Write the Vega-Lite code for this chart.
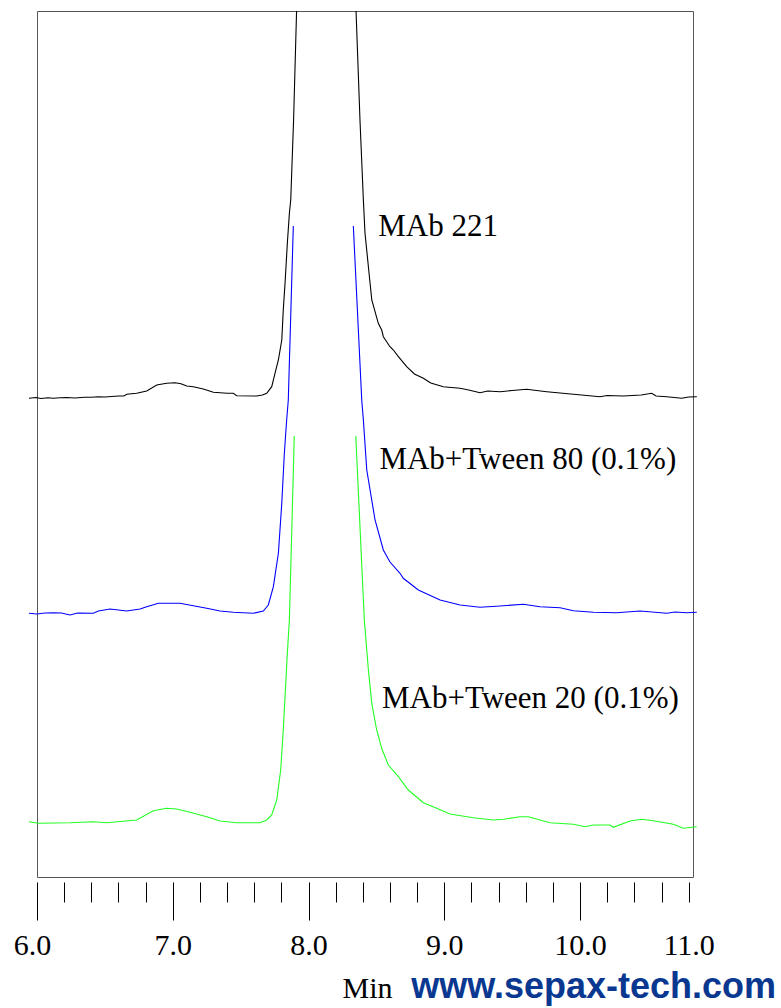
{
  "$schema": "https://vega.github.io/schema/vega-lite/v6.json",
  "width": 656,
  "height": 866,
  "autosize": {"type": "none"},
  "padding": {"left": 37, "top": 11, "right": 88, "bottom": 131},
  "background": "white",
  "config": {"view": {"stroke": "#555555", "strokeWidth": 1}},
  "title": {"text": "www.sepax-tech.com", "orient": "bottom", "anchor": "end", "frame": "group", "font": "Liberation Sans", "fontSize": 36, "fontWeight": "bold", "color": "#0a3890", "baseline": "alphabetic", "dx": 83, "dy": -5, "offset": 0},
  "datasets": {
    "traces": [
      {"trace": "MAb 221", "part": "K-L", "t": 5.941, "v": 478.7},
      {"trace": "MAb 221", "part": "K-L", "t": 5.99, "v": 479.5},
      {"trace": "MAb 221", "part": "K-L", "t": 6.03, "v": 478.5},
      {"trace": "MAb 221", "part": "K-L", "t": 6.08, "v": 479.3},
      {"trace": "MAb 221", "part": "K-L", "t": 6.12, "v": 478.7},
      {"trace": "MAb 221", "part": "K-L", "t": 6.17, "v": 479.3},
      {"trace": "MAb 221", "part": "K-L", "t": 6.22, "v": 479.5},
      {"trace": "MAb 221", "part": "K-L", "t": 6.28, "v": 479.0},
      {"trace": "MAb 221", "part": "K-L", "t": 6.35, "v": 479.7},
      {"trace": "MAb 221", "part": "K-L", "t": 6.40, "v": 479.8},
      {"trace": "MAb 221", "part": "K-L", "t": 6.45, "v": 480.3},
      {"trace": "MAb 221", "part": "K-L", "t": 6.50, "v": 480.0},
      {"trace": "MAb 221", "part": "K-L", "t": 6.55, "v": 480.5},
      {"trace": "MAb 221", "part": "K-L", "t": 6.60, "v": 481.0},
      {"trace": "MAb 221", "part": "K-L", "t": 6.64, "v": 481.0},
      {"trace": "MAb 221", "part": "K-L", "t": 6.661, "v": 482.7},
      {"trace": "MAb 221", "part": "K-L", "t": 6.734, "v": 483.7},
      {"trace": "MAb 221", "part": "K-L", "t": 6.808, "v": 486.0},
      {"trace": "MAb 221", "part": "K-L", "t": 6.882, "v": 492.0},
      {"trace": "MAb 221", "part": "K-L", "t": 6.955, "v": 493.7},
      {"trace": "MAb 221", "part": "K-L", "t": 7.017, "v": 494.3},
      {"trace": "MAb 221", "part": "K-L", "t": 7.06, "v": 493.3},
      {"trace": "MAb 221", "part": "K-L", "t": 7.103, "v": 491.0},
      {"trace": "MAb 221", "part": "K-L", "t": 7.151, "v": 490.3},
      {"trace": "MAb 221", "part": "K-L", "t": 7.225, "v": 488.0},
      {"trace": "MAb 221", "part": "K-L", "t": 7.299, "v": 484.7},
      {"trace": "MAb 221", "part": "K-L", "t": 7.40, "v": 483.7},
      {"trace": "MAb 221", "part": "K-L", "t": 7.446, "v": 483.7},
      {"trace": "MAb 221", "part": "K-L", "t": 7.471, "v": 481.3},
      {"trace": "MAb 221", "part": "K-L", "t": 7.618, "v": 481.0},
      {"trace": "MAb 221", "part": "K-L", "t": 7.66, "v": 482.0},
      {"trace": "MAb 221", "part": "K-L", "t": 7.692, "v": 483.7},
      {"trace": "MAb 221", "part": "K-L", "t": 7.729, "v": 490.3},
      {"trace": "MAb 221", "part": "K-L", "t": 7.753, "v": 503.7},
      {"trace": "MAb 221", "part": "K-L", "t": 7.778, "v": 517.0},
      {"trace": "MAb 221", "part": "K-L", "t": 7.803, "v": 537.0},
      {"trace": "MAb 221", "part": "K-L", "t": 7.814, "v": 567.0},
      {"trace": "MAb 221", "part": "K-L", "t": 7.827, "v": 593.7},
      {"trace": "MAb 221", "part": "K-L", "t": 7.844, "v": 633.7},
      {"trace": "MAb 221", "part": "K-L", "t": 7.859, "v": 663.7},
      {"trace": "MAb 221", "part": "K-L", "t": 7.869, "v": 677.0},
      {"trace": "MAb 221", "part": "K-L", "t": 7.890, "v": 757.0},
      {"trace": "MAb 221", "part": "K-L", "t": 7.912, "v": 866.0},
      {"trace": "MAb 221", "part": "K-R", "t": 8.350, "v": 866.0},
      {"trace": "MAb 221", "part": "K-R", "t": 8.379, "v": 757.0},
      {"trace": "MAb 221", "part": "K-R", "t": 8.404, "v": 677.0},
      {"trace": "MAb 221", "part": "K-R", "t": 8.416, "v": 643.7},
      {"trace": "MAb 221", "part": "K-R", "t": 8.441, "v": 610.3},
      {"trace": "MAb 221", "part": "K-R", "t": 8.466, "v": 577.0},
      {"trace": "MAb 221", "part": "K-R", "t": 8.514, "v": 553.7},
      {"trace": "MAb 221", "part": "K-R", "t": 8.539, "v": 547.0},
      {"trace": "MAb 221", "part": "K-R", "t": 8.551, "v": 540.3},
      {"trace": "MAb 221", "part": "K-R", "t": 8.600, "v": 530.3},
      {"trace": "MAb 221", "part": "K-R", "t": 8.625, "v": 527.0},
      {"trace": "MAb 221", "part": "K-R", "t": 8.662, "v": 520.3},
      {"trace": "MAb 221", "part": "K-R", "t": 8.723, "v": 510.3},
      {"trace": "MAb 221", "part": "K-R", "t": 8.78, "v": 503.0},
      {"trace": "MAb 221", "part": "K-R", "t": 8.846, "v": 498.7},
      {"trace": "MAb 221", "part": "K-R", "t": 8.90, "v": 494.0},
      {"trace": "MAb 221", "part": "K-R", "t": 8.993, "v": 490.3},
      {"trace": "MAb 221", "part": "K-R", "t": 9.116, "v": 488.7},
      {"trace": "MAb 221", "part": "K-R", "t": 9.18, "v": 487.0},
      {"trace": "MAb 221", "part": "K-R", "t": 9.263, "v": 484.3},
      {"trace": "MAb 221", "part": "K-R", "t": 9.32, "v": 486.0},
      {"trace": "MAb 221", "part": "K-R", "t": 9.411, "v": 485.3},
      {"trace": "MAb 221", "part": "K-R", "t": 9.50, "v": 486.5},
      {"trace": "MAb 221", "part": "K-R", "t": 9.607, "v": 487.7},
      {"trace": "MAb 221", "part": "K-R", "t": 9.65, "v": 487.0},
      {"trace": "MAb 221", "part": "K-R", "t": 9.755, "v": 485.3},
      {"trace": "MAb 221", "part": "K-R", "t": 9.951, "v": 482.7},
      {"trace": "MAb 221", "part": "K-R", "t": 10.05, "v": 481.5},
      {"trace": "MAb 221", "part": "K-R", "t": 10.147, "v": 480.3},
      {"trace": "MAb 221", "part": "K-R", "t": 10.20, "v": 481.5},
      {"trace": "MAb 221", "part": "K-R", "t": 10.319, "v": 481.0},
      {"trace": "MAb 221", "part": "K-R", "t": 10.45, "v": 482.0},
      {"trace": "MAb 221", "part": "K-R", "t": 10.528, "v": 483.7},
      {"trace": "MAb 221", "part": "K-R", "t": 10.56, "v": 481.0},
      {"trace": "MAb 221", "part": "K-R", "t": 10.639, "v": 480.3},
      {"trace": "MAb 221", "part": "K-R", "t": 10.749, "v": 478.7},
      {"trace": "MAb 221", "part": "K-R", "t": 10.80, "v": 480.0},
      {"trace": "MAb 221", "part": "K-R", "t": 10.860, "v": 480.3},

      {"trace": "Tween 80", "part": "B-L", "t": 5.941, "v": 263.7},
      {"trace": "Tween 80", "part": "B-L", "t": 5.998, "v": 263.0},
      {"trace": "Tween 80", "part": "B-L", "t": 6.06, "v": 264.0},
      {"trace": "Tween 80", "part": "B-L", "t": 6.120, "v": 264.3},
      {"trace": "Tween 80", "part": "B-L", "t": 6.18, "v": 264.0},
      {"trace": "Tween 80", "part": "B-L", "t": 6.243, "v": 262.0},
      {"trace": "Tween 80", "part": "B-L", "t": 6.30, "v": 264.0},
      {"trace": "Tween 80", "part": "B-L", "t": 6.415, "v": 263.7},
      {"trace": "Tween 80", "part": "B-L", "t": 6.452, "v": 266.0},
      {"trace": "Tween 80", "part": "B-L", "t": 6.538, "v": 268.0},
      {"trace": "Tween 80", "part": "B-L", "t": 6.60, "v": 267.0},
      {"trace": "Tween 80", "part": "B-L", "t": 6.661, "v": 266.0},
      {"trace": "Tween 80", "part": "B-L", "t": 6.759, "v": 268.0},
      {"trace": "Tween 80", "part": "B-L", "t": 6.808, "v": 270.3},
      {"trace": "Tween 80", "part": "B-L", "t": 6.894, "v": 273.7},
      {"trace": "Tween 80", "part": "B-L", "t": 7.053, "v": 273.7},
      {"trace": "Tween 80", "part": "B-L", "t": 7.151, "v": 271.3},
      {"trace": "Tween 80", "part": "B-L", "t": 7.250, "v": 268.7},
      {"trace": "Tween 80", "part": "B-L", "t": 7.348, "v": 266.0},
      {"trace": "Tween 80", "part": "B-L", "t": 7.446, "v": 264.7},
      {"trace": "Tween 80", "part": "B-L", "t": 7.593, "v": 263.7},
      {"trace": "Tween 80", "part": "B-L", "t": 7.667, "v": 266.0},
      {"trace": "Tween 80", "part": "B-L", "t": 7.704, "v": 272.0},
      {"trace": "Tween 80", "part": "B-L", "t": 7.741, "v": 290.3},
      {"trace": "Tween 80", "part": "B-L", "t": 7.778, "v": 323.7},
      {"trace": "Tween 80", "part": "B-L", "t": 7.803, "v": 373.7},
      {"trace": "Tween 80", "part": "B-L", "t": 7.822, "v": 423.7},
      {"trace": "Tween 80", "part": "B-L", "t": 7.839, "v": 457.0},
      {"trace": "Tween 80", "part": "B-L", "t": 7.851, "v": 477.0},
      {"trace": "Tween 80", "part": "B-L", "t": 7.888, "v": 651.0},
      {"trace": "Tween 80", "part": "B-R", "t": 8.330, "v": 651.0},
      {"trace": "Tween 80", "part": "B-R", "t": 8.392, "v": 477.0},
      {"trace": "Tween 80", "part": "B-R", "t": 8.404, "v": 457.0},
      {"trace": "Tween 80", "part": "B-R", "t": 8.429, "v": 407.0},
      {"trace": "Tween 80", "part": "B-R", "t": 8.490, "v": 357.0},
      {"trace": "Tween 80", "part": "B-R", "t": 8.551, "v": 327.0},
      {"trace": "Tween 80", "part": "B-R", "t": 8.600, "v": 315.0},
      {"trace": "Tween 80", "part": "B-R", "t": 8.674, "v": 303.7},
      {"trace": "Tween 80", "part": "B-R", "t": 8.698, "v": 298.7},
      {"trace": "Tween 80", "part": "B-R", "t": 8.809, "v": 287.0},
      {"trace": "Tween 80", "part": "B-R", "t": 8.969, "v": 277.0},
      {"trace": "Tween 80", "part": "B-R", "t": 9.116, "v": 272.0},
      {"trace": "Tween 80", "part": "B-R", "t": 9.263, "v": 269.7},
      {"trace": "Tween 80", "part": "B-R", "t": 9.411, "v": 271.0},
      {"trace": "Tween 80", "part": "B-R", "t": 9.583, "v": 272.7},
      {"trace": "Tween 80", "part": "B-R", "t": 9.705, "v": 270.3},
      {"trace": "Tween 80", "part": "B-R", "t": 9.853, "v": 269.3},
      {"trace": "Tween 80", "part": "B-R", "t": 9.951, "v": 266.3},
      {"trace": "Tween 80", "part": "B-R", "t": 10.098, "v": 264.7},
      {"trace": "Tween 80", "part": "B-R", "t": 10.270, "v": 264.3},
      {"trace": "Tween 80", "part": "B-R", "t": 10.442, "v": 266.0},
      {"trace": "Tween 80", "part": "B-R", "t": 10.639, "v": 263.7},
      {"trace": "Tween 80", "part": "B-R", "t": 10.70, "v": 265.0},
      {"trace": "Tween 80", "part": "B-R", "t": 10.786, "v": 264.3},
      {"trace": "Tween 80", "part": "B-R", "t": 10.860, "v": 264.7},

      {"trace": "Tween 20", "part": "G-L", "t": 5.941, "v": 55.3},
      {"trace": "Tween 20", "part": "G-L", "t": 6.010, "v": 53.7},
      {"trace": "Tween 20", "part": "G-L", "t": 6.243, "v": 54.3},
      {"trace": "Tween 20", "part": "G-L", "t": 6.415, "v": 55.3},
      {"trace": "Tween 20", "part": "G-L", "t": 6.513, "v": 54.3},
      {"trace": "Tween 20", "part": "G-L", "t": 6.734, "v": 57.0},
      {"trace": "Tween 20", "part": "G-L", "t": 6.857, "v": 66.3},
      {"trace": "Tween 20", "part": "G-L", "t": 6.955, "v": 68.7},
      {"trace": "Tween 20", "part": "G-L", "t": 7.029, "v": 68.0},
      {"trace": "Tween 20", "part": "G-L", "t": 7.127, "v": 64.7},
      {"trace": "Tween 20", "part": "G-L", "t": 7.250, "v": 60.3},
      {"trace": "Tween 20", "part": "G-L", "t": 7.348, "v": 56.0},
      {"trace": "Tween 20", "part": "G-L", "t": 7.471, "v": 54.3},
      {"trace": "Tween 20", "part": "G-L", "t": 7.643, "v": 54.3},
      {"trace": "Tween 20", "part": "G-L", "t": 7.692, "v": 57.0},
      {"trace": "Tween 20", "part": "G-L", "t": 7.729, "v": 62.0},
      {"trace": "Tween 20", "part": "G-L", "t": 7.766, "v": 77.0},
      {"trace": "Tween 20", "part": "G-L", "t": 7.795, "v": 107.0},
      {"trace": "Tween 20", "part": "G-L", "t": 7.814, "v": 147.0},
      {"trace": "Tween 20", "part": "G-L", "t": 7.827, "v": 180.3},
      {"trace": "Tween 20", "part": "G-L", "t": 7.844, "v": 223.7},
      {"trace": "Tween 20", "part": "G-L", "t": 7.859, "v": 257.0},
      {"trace": "Tween 20", "part": "G-L", "t": 7.895, "v": 441.0},
      {"trace": "Tween 20", "part": "G-R", "t": 8.348, "v": 441.0},
      {"trace": "Tween 20", "part": "G-R", "t": 8.411, "v": 257.0},
      {"trace": "Tween 20", "part": "G-R", "t": 8.441, "v": 207.0},
      {"trace": "Tween 20", "part": "G-R", "t": 8.466, "v": 173.7},
      {"trace": "Tween 20", "part": "G-R", "t": 8.502, "v": 147.0},
      {"trace": "Tween 20", "part": "G-R", "t": 8.539, "v": 128.7},
      {"trace": "Tween 20", "part": "G-R", "t": 8.588, "v": 112.0},
      {"trace": "Tween 20", "part": "G-R", "t": 8.662, "v": 100.3},
      {"trace": "Tween 20", "part": "G-R", "t": 8.735, "v": 87.0},
      {"trace": "Tween 20", "part": "G-R", "t": 8.846, "v": 74.3},
      {"trace": "Tween 20", "part": "G-R", "t": 8.944, "v": 68.7},
      {"trace": "Tween 20", "part": "G-R", "t": 9.042, "v": 63.0},
      {"trace": "Tween 20", "part": "G-R", "t": 9.214, "v": 59.3},
      {"trace": "Tween 20", "part": "G-R", "t": 9.361, "v": 57.0},
      {"trace": "Tween 20", "part": "G-R", "t": 9.435, "v": 57.7},
      {"trace": "Tween 20", "part": "G-R", "t": 9.558, "v": 60.3},
      {"trace": "Tween 20", "part": "G-R", "t": 9.619, "v": 60.3},
      {"trace": "Tween 20", "part": "G-R", "t": 9.779, "v": 54.3},
      {"trace": "Tween 20", "part": "G-R", "t": 9.951, "v": 52.7},
      {"trace": "Tween 20", "part": "G-R", "t": 10.037, "v": 50.3},
      {"trace": "Tween 20", "part": "G-R", "t": 10.098, "v": 52.0},
      {"trace": "Tween 20", "part": "G-R", "t": 10.221, "v": 52.0},
      {"trace": "Tween 20", "part": "G-R", "t": 10.245, "v": 49.7},
      {"trace": "Tween 20", "part": "G-R", "t": 10.368, "v": 56.0},
      {"trace": "Tween 20", "part": "G-R", "t": 10.455, "v": 57.7},
      {"trace": "Tween 20", "part": "G-R", "t": 10.540, "v": 56.3},
      {"trace": "Tween 20", "part": "G-R", "t": 10.687, "v": 52.7},
      {"trace": "Tween 20", "part": "G-R", "t": 10.761, "v": 48.7},
      {"trace": "Tween 20", "part": "G-R", "t": 10.860, "v": 50.3}
    ],
    "labels": [
      {"label": "MAb 221", "t": 8.514, "v": 641},
      {"label": "MAb+Tween 80 (0.1%)", "t": 8.522, "v": 408},
      {"label": "MAb+Tween 20 (0.1%)", "t": 8.541, "v": 169}
    ]
  },
  "layer": [
    {
      "data": {"name": "traces"},
      "mark": {"type": "line", "strokeWidth": 1.1, "interpolate": "linear"},
      "encoding": {
        "x": {
          "field": "t", "type": "quantitative",
          "scale": {"domain": [6, 10.832], "nice": false, "zero": false},
          "axis": {
            "values": [6, 6.2, 6.4, 6.6, 6.8, 7, 7.2, 7.4, 7.6, 7.8, 8, 8.2, 8.4, 8.6, 8.8, 9, 9.2, 9.4, 9.6, 9.8, 10, 10.2, 10.4, 10.6, 10.8],
            "tickCount": 100,
            "domain": false, "grid": false, "offset": 5,
            "tickColor": "black", "tickWidth": 1,
            "tickSize": {"condition": {"test": "abs(datum.value - round(datum.value)) < 0.01", "value": 38}, "value": 20},
            "labelExpr": "abs(datum.value - 10.8) < 0.01 ? '11.0' : (abs(datum.value - round(datum.value)) < 0.01 ? format(datum.value, '.1f') : '')",
            "labelFont": "Liberation Serif", "labelFontSize": 30, "labelColor": "black",
            "labelPadding": {"condition": {"test": "abs(datum.value - 10.8) < 0.01", "value": 28}, "value": 10},
            "labelOffset": {"condition": {"test": "datum.value < 6.1", "value": -5}, "value": 0},
            "labelBaseline": "top", "labelAlign": "center",
            "labelOverlap": false, "labelFlush": false,
            "title": "Min", "titleFont": "Liberation Serif", "titleFontSize": 30, "titleFontWeight": "normal", "titleColor": "black",
            "titleAlign": "left", "titleBaseline": "alphabetic", "titleX": 305, "titleY": 115
          }
        },
        "y": {"field": "v", "type": "quantitative", "scale": {"domain": [0, 866], "nice": false, "zero": false}, "axis": null},
        "color": {"field": "trace", "type": "nominal", "scale": {"domain": ["MAb 221", "Tween 80", "Tween 20"], "range": ["#000000", "#0000ff", "#22ff22"]}, "legend": null},
        "detail": {"field": "part", "type": "nominal"}
      }
    },
    {
      "data": {"name": "labels"},
      "mark": {"type": "text", "font": "Liberation Serif", "fontSize": 31, "align": "left", "baseline": "alphabetic", "color": "black"},
      "encoding": {
        "x": {"field": "t", "type": "quantitative"},
        "y": {"field": "v", "type": "quantitative"},
        "text": {"field": "label"}
      }
    }
  ]
}
